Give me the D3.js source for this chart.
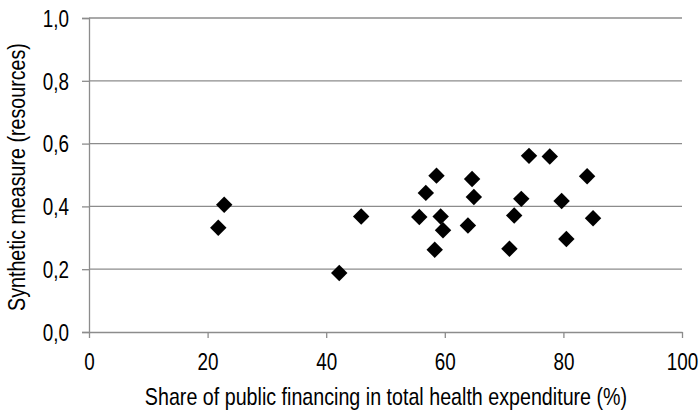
<!DOCTYPE html>
<html>
<head>
<meta charset="utf-8">
<script src="https://cdn.jsdelivr.net/npm/d3@7"></script>
<style>
  body { margin: 0; background: #fff; }
  text { font-family: "Liberation Sans", Arial, sans-serif; fill: #000; }
</style>
</head>
<body>
<svg id="chart" width="700" height="411"></svg>
<script>
// share of public financing (%) and synthetic measure
const publicShare = [21.8, 22.8, 42.2, 45.9, 55.7, 56.8, 58.6, 58.3, 59.3, 59.7, 63.9,
                     64.6, 64.9, 70.9, 71.7, 72.9, 74.2, 77.7, 79.7, 80.5, 84.0, 85.0];
const resources   = [0.332, 0.405, 0.188, 0.368, 0.366, 0.443, 0.498, 0.262, 0.368, 0.324, 0.339,
                     0.487, 0.430, 0.265, 0.371, 0.424, 0.561, 0.559, 0.417, 0.296, 0.496, 0.362];
const xTicks = [0, 20, 40, 60, 80, 100];
const yTicks = [0, 0.2, 0.4, 0.6, 0.8, 1.0];

const svg = d3.select("#chart");
const mLeft = 89, mRight = 682, mTop = 18, mBottom = 332;
const narrow = 0.82;   // no Arial Narrow here, squeeze Liberation Sans instead
const fs = 23;

const x = d3.scaleLinear().domain([0, 100]).range([mLeft, mRight]);
const y = d3.scaleLinear().domain([0, 1]).range([mBottom, mTop]);

const fmt = d => d3.format(".1f")(d).replace(".", ",");
const gray = "#8c8c8c";

// left axis
const yAxis = svg.append("g")
  .attr("transform", `translate(${mLeft},0)`)
  .call(d3.axisLeft(y).tickValues(yTicks).tickFormat(fmt).tickSize(7).tickPadding(20));
yAxis.select(".domain").attr("stroke", gray).attr("stroke-width", 1.3);
yAxis.selectAll(".tick line").attr("stroke", gray).attr("stroke-width", 1.3);
yAxis.selectAll(".tick text")
  .attr("font-size", fs).attr("font-family", null)
  .attr("x", -20 / narrow).attr("dy", "0.36em")
  .attr("transform", `scale(${narrow},1)`);

// gridlines
svg.append("g").selectAll("line")
  .data(yTicks.filter(d => d > 0))
  .join("line")
  .attr("x1", mLeft).attr("x2", mRight)
  .attr("y1", d => y(d)).attr("y2", d => y(d))
  .attr("stroke", gray).attr("stroke-width", 1.3);

// bottom axis
const xAxis = svg.append("g")
  .attr("transform", `translate(0,${mBottom})`)
  .call(d3.axisBottom(x).tickValues(xTicks).tickSize(6).tickSizeOuter(0));
xAxis.select(".domain").attr("stroke", gray).attr("stroke-width", 1.3);
xAxis.selectAll(".tick line").attr("stroke", gray).attr("stroke-width", 1.3);
xAxis.selectAll(".tick text")
  .attr("font-size", fs).attr("font-family", null)
  .attr("y", 38).attr("dy", null)
  .attr("transform", `scale(${narrow},1)`);

// diamonds
svg.append("g").selectAll("path")
  .data(publicShare.map((v, i) => [v, resources[i]]))
  .join("path")
  .attr("d", d3.symbol(d3.symbolSquare, 135))
  .attr("transform", d => `translate(${x(d[0])},${y(d[1])}) rotate(45)`)
  .attr("fill", "#000");

svg.append("text")
  .attr("transform", `translate(386,405) scale(${narrow},1)`)
  .attr("text-anchor", "middle").attr("font-size", 24)
  .text("Share of public financing in total health expenditure (%)");

svg.append("text")
  .attr("transform", `translate(25,177) rotate(-90) scale(${narrow},1)`)
  .attr("text-anchor", "middle").attr("font-size", 24)
  .text("Synthetic measure (resources)");
</script>
</body>
</html>
